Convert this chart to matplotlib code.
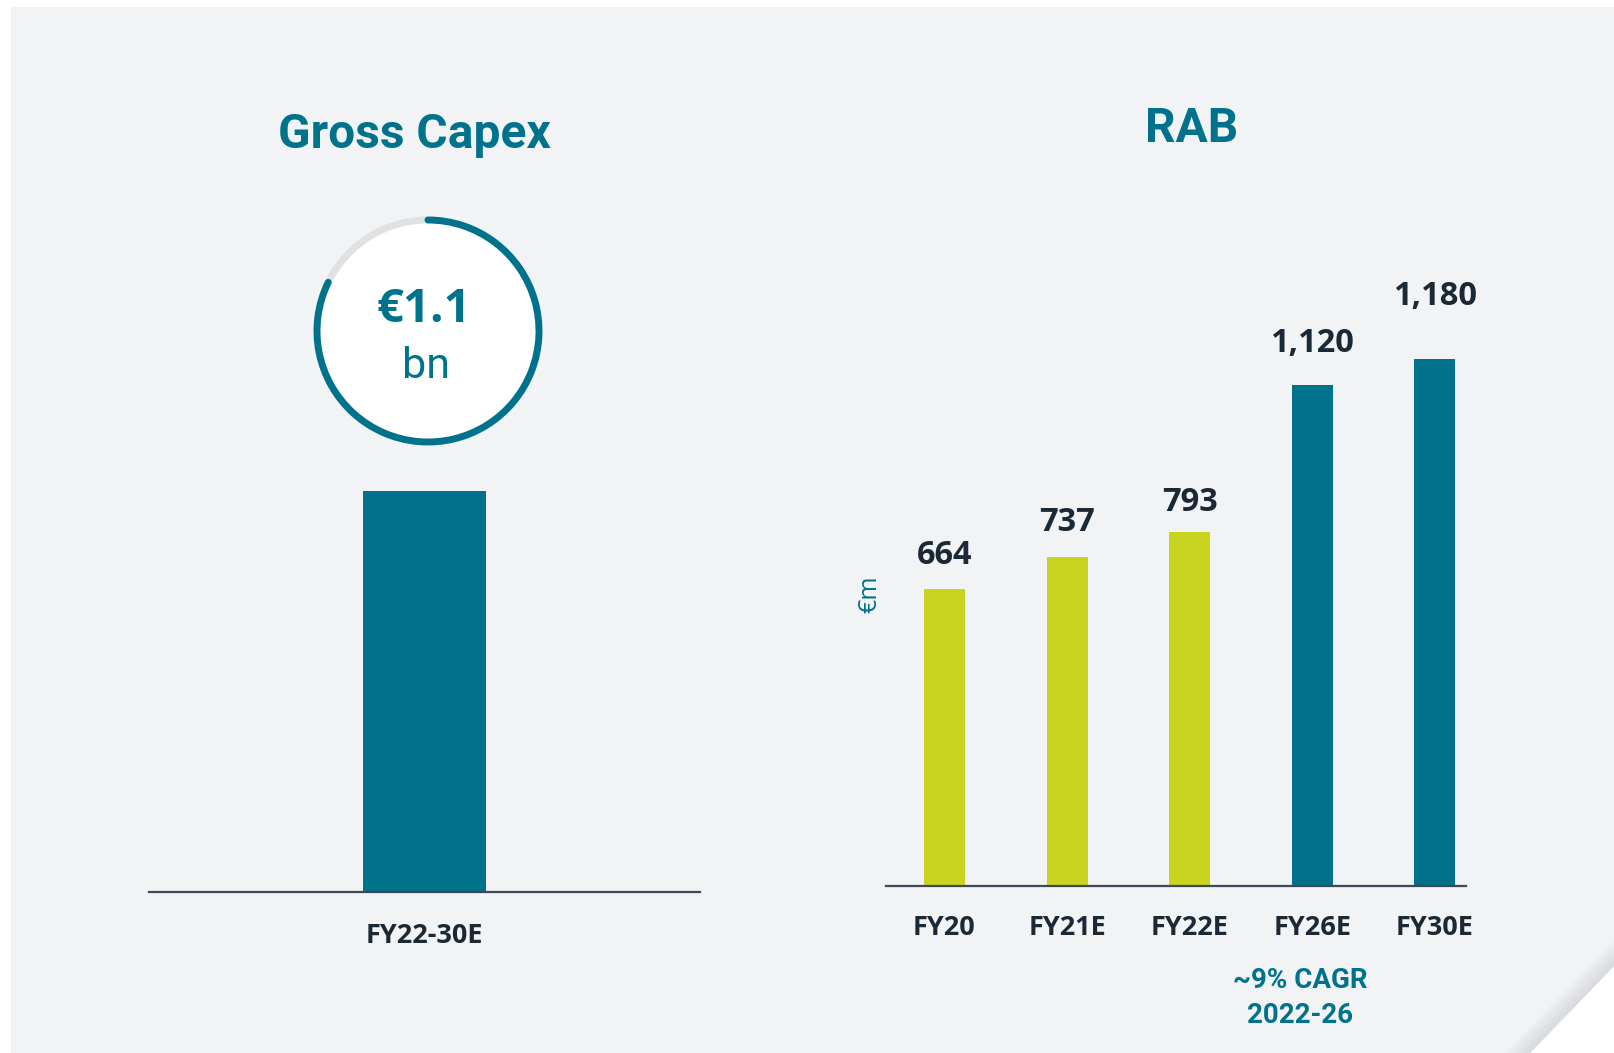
import matplotlib
matplotlib.use("Agg")
import matplotlib.pyplot as plt
from matplotlib.patches import Circle, Arc, Polygon

# ---- data ----
capex_label = ["FY22-30E"]
capex_value = [1.1]          # € bn
capex_text = "€1.1"
capex_unit = "bn"

rab_categories = ["FY20", "FY21E", "FY22E", "FY26E", "FY30E"]
rab_values = [664, 737, 793, 1120, 1180]
rab_labels = ["664", "737", "793", "1,120", "1,180"]
rab_is_forecast = [False, False, False, True, True]
cagr_text = "~9% CAGR\n2022-26"
unit_label = "€m"

TEAL = "#00728b"
LIME = "#c8d41f"
BG = "#f2f3f5"
DARK = "#1b2836"
AXIS = "#3e4858"

W, H = 1615, 1053
fig = plt.figure(figsize=(W / 100, H / 100), dpi=100, facecolor="white")

# background / decoration axes in pixel coordinates (y up)
bg = fig.add_axes([0, 0, 1, 1], zorder=0)
bg.set_xlim(0, W)
bg.set_ylim(0, H)
bg.axis("off")

def Y(y):
    return H - y

bg.add_patch(Polygon([(11, Y(7)), (W, Y(7)), (W, Y(965)), (1530, Y(H)), (11, Y(H))],
                     closed=True, fc=BG, ec="none"))
# folded corner shadow
for i in range(12):
    d = 2 + i * 2.2
    bg.add_patch(Polygon([(W, Y(965 - d)), (W, Y(965)), (1530, Y(H)), (1530 - d, Y(H))],
                         closed=True, fc="#c9ccd2", ec="none", alpha=0.06))

# circle badge
cx, cy, r = 428, Y(331), 111
bg.add_patch(Circle((cx, cy), r, fc="white", ec="none"))
bg.add_patch(Arc((cx, cy), 2 * r, 2 * r, theta1=90, theta2=154, color="#dfe1e3", lw=5))
arc = Arc((cx, cy), 2 * r, 2 * r, theta1=154, theta2=450, color=TEAL, lw=5)
arc.set_capstyle("round")
bg.add_patch(arc)
bg.text(cx - 4, Y(310), capex_text, ha="center", va="center", color=TEAL,
        fontsize=34, fontweight="bold", family=["Open Sans", "DejaVu Sans"])
bg.text(cx - 2, Y(366), capex_unit, ha="center", va="center", color=TEAL,
        fontsize=31, family=["Roboto", "DejaVu Sans"])

# titles
bg.text(414, Y(135), "Gross Capex", ha="center", va="center", color=TEAL,
        fontsize=34.5, fontweight="bold", family=["Roboto", "DejaVu Sans"])
bg.text(1192, Y(129), "RAB", ha="center", va="center", color=TEAL,
        fontsize=34.5, fontweight="bold", family=["Roboto", "DejaVu Sans"])
bg.text(1300, Y(998), cagr_text, ha="center", va="center", color=TEAL,
        fontsize=20, fontweight="bold", family=["Roboto", "DejaVu Sans"],
        linespacing=1.35)
bg.text(870, Y(594), unit_label, ha="center", va="center", color=TEAL,
        fontsize=18, rotation=90, family=["Open Sans", "DejaVu Sans"])

# ---- left chart: Gross Capex ----
axL = fig.add_axes([149 / W, (H - 892) / H, (700 - 149) / W, 401 / H], zorder=1)
axL.set_facecolor("none")
axL.bar([0], capex_value, width=1.0, color=TEAL)
axL.set_xlim(-2.24, 2.24)
axL.set_ylim(0, 1.1)
for s in ["top", "right", "left"]:
    axL.spines[s].set_visible(False)
axL.spines["bottom"].set_color(AXIS)
axL.spines["bottom"].set_linewidth(1.6)
axL.set_yticks([])
axL.set_xticks([0])
axL.set_xticklabels(capex_label, fontsize=19.5, fontweight="bold", color=DARK,
                    family=["Open Sans", "DejaVu Sans"])
axL.tick_params(axis="x", length=0, pad=22)

# ---- right chart: RAB ----
scale = 0.447  # px per unit
top = 1300
axR = fig.add_axes([886 / W, (H - 886) / H, (1466 - 886) / W, top * scale / H], zorder=1)
axR.set_facecolor("none")
x = list(range(len(rab_categories)))
colors = [TEAL if f else LIME for f in rab_is_forecast]
axR.bar(x, rab_values, width=0.334, color=colors)
axR.set_xlim(-0.477, 4.253)
axR.set_ylim(0, top)
for s in ["top", "right", "left"]:
    axR.spines[s].set_visible(False)
axR.spines["bottom"].set_color(AXIS)
axR.spines["bottom"].set_linewidth(1.6)
axR.set_yticks([])
axR.set_xticks(x)
axR.set_xticklabels(rab_categories, fontsize=19.5, fontweight="bold", color=DARK,
                    family=["Open Sans", "DejaVu Sans"])
axR.tick_params(axis="x", length=0, pad=21)
label_gaps_pt = [24.5, 24.5, 21.0, 30.4, 44.5]
for xi, v, lab, g in zip(x, rab_values, rab_labels, label_gaps_pt):
    axR.annotate(lab, (xi, v), xytext=(0, g), textcoords="offset points",
                 ha="center", va="center", fontsize=23.5, fontweight="bold", color=DARK,
                 family=["Open Sans", "DejaVu Sans"])

fig.savefig("out.png", dpi=100, facecolor="white")
